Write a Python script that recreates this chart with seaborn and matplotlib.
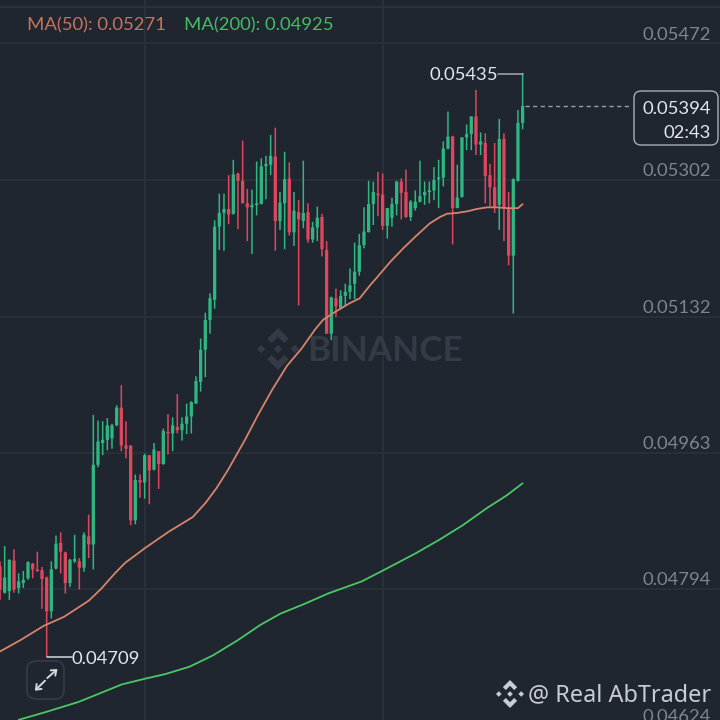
import numpy as np
import pandas as pd
import matplotlib
matplotlib.use("Agg")
import matplotlib.pyplot as plt
import seaborn as sns
from matplotlib.patches import Polygon, FancyBboxPatch
from matplotlib.transforms import Affine2D

# Prices are in units of 0.00001
opens = [4822,4789,4791,4829,4795,4801,4807,4825,4818,4817,
         4808,4766,4819,4851,4839,4801,4828,4828,4820,4859,
         4849,4948,4975,4979,4981,4997,5019,4972,4972,4879,
         4929,4926,4960,4942,4965,4949,4989,4987,4995,4991,
         4999,5008,5024,5051,5091,5128,5153,5244,5261,5266,
         5260,5310,5301,5273,5268,5271,5272,5319,5321,5331,
         5251,5273,5304,5237,5262,5251,5262,5228,5243,5256,
         5215,5111,5155,5143,5158,5163,5173,5188,5221,5237,
         5272,5285,5284,5245,5255,5272,5300,5287,5256,5267,
         5275,5283,5287,5289,5303,5305,5341,5356,5267,5281,
         5355,5359,5381,5346,5348,5308,5293,5271,5353,5267,
         5208,5301,5373]
closes = [4793,4808,4830,4793,4803,4805,4827,4818,4816,4806,
          4766,4818,4850,4840,4801,4830,4831,4820,4861,4849,
          4948,4977,4979,4997,4997,5019,4972,4968,4879,4929,
          4926,4960,4941,4967,4949,4990,4987,4997,4991,4999,
          5008,5026,5052,5091,5128,5155,5244,5261,5266,5259,
          5309,5301,5273,5268,5271,5273,5319,5322,5332,5251,
          5274,5303,5237,5264,5253,5261,5228,5243,5255,5216,
          5111,5156,5145,5158,5163,5171,5188,5221,5238,5272,
          5287,5283,5245,5267,5272,5300,5286,5256,5275,5275,
          5282,5287,5289,5302,5305,5341,5356,5267,5280,5355,
          5359,5381,5346,5350,5307,5293,5269,5353,5267,5208,
          5303,5373,5394]
highs = [4828,4847,4830,4843,4813,4816,4828,4826,4840,4821,
         4809,4828,4860,4864,4840,4831,4861,4832,4864,4886,
         5010,5003,5002,5006,4999,5022,5047,5002,4972,4936,
         4936,4962,4960,4975,4965,4993,5011,5007,5036,5007,
         5024,5027,5058,5105,5137,5161,5252,5285,5285,5308,
         5327,5311,5351,5291,5290,5325,5329,5332,5358,5367,
         5287,5337,5324,5287,5277,5326,5273,5250,5269,5260,
         5226,5157,5167,5165,5173,5192,5224,5235,5268,5301,
         5300,5312,5310,5267,5280,5301,5304,5315,5277,5289,
         5326,5300,5300,5318,5327,5350,5387,5357,5321,5355,
         5371,5381,5414,5361,5360,5322,5348,5378,5360,5287,
         5304,5389,5435]
lows = [4780,4788,4780,4789,4788,4795,4805,4807,4815,4769,
        4709,4757,4818,4813,4788,4796,4826,4793,4815,4832,
        4818,4945,4960,4966,4968,4996,4965,4956,4873,4874,
        4907,4906,4899,4941,4918,4948,4961,4965,4987,4978,
        4986,4987,5024,5039,5057,5111,5142,5215,5214,5247,
        5259,5241,5273,5226,5210,5258,5272,5278,5308,5214,
        5240,5216,5233,5220,5146,5242,5224,5224,5226,5207,
        5111,5103,5132,5141,5145,5154,5154,5183,5217,5237,
        5246,5257,5240,5229,5244,5258,5253,5255,5251,5264,
        5274,5271,5273,5277,5267,5294,5340,5222,5267,5280,
        5339,5339,5333,5333,5273,5269,5261,5240,5226,5196,
        5136,5300,5365]

ma50_pos = [0,4.35,9.43,13.7,19,21.7,24.6,26.8,31.2,36.2,41.3,44.1,46.4,48.9,52.5,55.3,58.3,
            61.5,64.7,67.5,69.2,71.8,75,77.1,79.3,80.8,83.6,86.4,89.1,92.1,94.3,95.8,97.9,100.1,
            102.2,104.4,106.5,108.6,111,112]
ma50_val = [4716,4730,4748,4759,4779,4794,4813,4826,4845,4865,4883,4901,4919,4942,4979,5010,5041,
            5071,5093,5116,5128,5138,5149,5155,5171,5181,5200,5217,5232,5248,5256,
            5260,5261,5263,5266,5268,5268,5267,5267,5272]
ma200_pos = [4,9.4,16.7,21,26.1,31,35.5,40.6,45.6,50.7,55.8,60.1,65.2,70.3,77.5,82.2,89.1,94.2,
             99.2,104.3,108.6,112]
ma200_val = [4631,4640,4653,4663,4675,4682,4688,4697,4711,4729,4749,4763,4775,4788,4803,4817,
             4838,4855,4873,4894,4910,4925]

price_ticks = [5472, 5302, 5132, 4963, 4794, 4624]
tick_labels = ["0.05472", "0.05302", "0.05132", "0.04963", "0.04794", "0.04624"]
time_ticks = [31, 82]
ma50_label = "MA(50): 0.05271"
ma200_label = "MA(200): 0.04925"
high_label = "0.05435"
low_label = "0.04709"
last_label = "0.05394"
timer_label = "02:43"
watermark = "BINANCE"
credit = "@ Real AbTrader"

BG = "#1f2630"
GRID = "#2b323d"
UP = "#2fb782"
DOWN = "#e2465f"
MA50C = "#d8846a"
MA200C = "#4cc765"
TICKC = "#7f858e"
LIGHT = "#e4e6ea"
FONT = "Lato"
SIZE = 13.3

sns.set_style("dark")
plt.rcParams["font.family"] = [FONT, "DejaVu Sans"]

fig = plt.figure(figsize=(7.2, 7.2), dpi=100, facecolor=BG)
ax = fig.add_axes([0, 0, 1, 1], facecolor=BG)
for s in ax.spines.values():
    s.set_visible(False)
ax.set_xticks(time_ticks)
ax.set_yticks(price_ticks)
ax.set_xlim(0, 154.3)
ax.set_ylim(4630.8, 5525.7)
ax.tick_params(left=False, bottom=False, labelleft=False, labelbottom=False)
ax.grid(True, color=GRID, lw=1.1, zorder=0)
ax.set_axisbelow(True)

# pixel transform for interface decoration (origin top left)
px = Affine2D().scale(1 / 720, -1 / 720).translate(0, 1) + fig.transFigure

o = np.array(opens); c = np.array(closes); h = np.array(highs); l = np.array(lows)
idx = np.arange(len(o))
colors = np.where(c >= o, UP, DOWN)
wicks = ax.vlines(idx, l, h, colors=colors, lw=1.1, zorder=3)
wicks.set_snap(False)
bottoms = np.minimum(o, c)
heights = np.maximum(np.abs(c - o), 1.6)
bars = ax.bar(idx, heights, bottom=bottoms, width=0.7, color=colors, lw=0, zorder=4)
for b in bars:
    b.set_snap(False)

df50 = pd.DataFrame({"pos": ma50_pos, "val": ma50_val})
df200 = pd.DataFrame({"pos": ma200_pos, "val": ma200_val})
sns.lineplot(data=df50, x="pos", y="val", color=MA50C, lw=1.3, ax=ax, zorder=5, errorbar=None)
sns.lineplot(data=df200, x="pos", y="val", color=MA200C, lw=1.3, ax=ax, zorder=5, errorbar=None)
ax.set_xlabel(""); ax.set_ylabel("")
ax.set_xlim(0, 154.3)
ax.set_ylim(4630.8, 5525.7)

# price labels sit above their grid lines
for p, lab in zip(price_ticks, tick_labels):
    ax.annotate(lab, xy=(1, p), xycoords=("axes fraction", "data"), xytext=(-9, 8.5),
                textcoords="offset pixels", ha="right", va="center", fontsize=SIZE,
                color=TICKC, annotation_clip=False, zorder=6)

def pxline(xs, ys, **kw):
    ax.plot(xs, ys, transform=px, clip_on=False, **kw)

def pxtext(x, y, s, **kw):
    ax.text(x, y, s, transform=px, clip_on=False, **kw)

def logo(cx, cy, r, color, zorder):
    d = 0.2
    shapes = [
        [(0, 1), (.51, .49), (.30, .28), (0, .58), (-.30, .28), (-.51, .49)],
        [(0, -1), (.51, -.49), (.30, -.28), (0, -.58), (-.30, -.28), (-.51, -.49)],
        [(0, d), (d, 0), (0, -d), (-d, 0)],
        [(.8, d), (.8 + d, 0), (.8, -d), (.8 - d, 0)],
        [(-.8, d), (-.8 + d, 0), (-.8, -d), (-.8 - d, 0)],
    ]
    for sh in shapes:
        pts = [(cx + r * a, cy - r * b) for a, b in sh]
        ax.add_patch(Polygon(pts, closed=True, fc=color, ec="none", transform=px,
                             clip_on=False, zorder=zorder))

# top rule
pxline([0, 720], [6.5, 6.5], color=GRID, lw=1.6, zorder=1)

# moving average legend
pxtext(27, 25.5, ma50_label, color="#c9725f", fontsize=SIZE, va="center", zorder=6)
pxtext(184, 25.5, ma200_label, color="#45bb66", fontsize=SIZE, va="center", zorder=6)

# watermark
logo(278, 349, 21, "#343b46", 1)
pxtext(307, 351, watermark, color="#343b46", fontsize=25.3, fontweight="bold", va="center", zorder=1)

# high / low markers
pxline([498, 523], [73.5, 73.5], color="#a7abb2", lw=1.1, zorder=6)
pxtext(498, 75, high_label, color=LIGHT, fontsize=SIZE, ha="right", va="center", zorder=6)
pxline([47, 72], [657, 657], color="#d6d8dc", lw=1.1, zorder=6)
pxtext(72, 659.5, low_label, color=LIGHT, fontsize=SIZE, ha="left", va="center", zorder=6)

# last price
pxline([525, 632], [106, 106], color="#9a9ea6", lw=1, dashes=(3, 2.5), zorder=6)
ax.add_patch(FancyBboxPatch((634, 91), 84, 54, boxstyle="round,pad=0,rounding_size=7",
                            fc=BG, ec="#a9adb4", lw=1.0, transform=px, clip_on=False, zorder=6))
pxtext(711, 108.5, last_label, color=LIGHT, fontsize=SIZE, ha="right", va="center", zorder=7)
pxtext(711, 132.5, timer_label, color=LIGHT, fontsize=SIZE, ha="right", va="center", zorder=7)

# expand button
ax.add_patch(FancyBboxPatch((27, 661), 37, 38, boxstyle="round,pad=0,rounding_size=9",
                            fc="none", ec="#343a45", lw=1.3, transform=px, clip_on=False, zorder=6))
for (x0, y0, x1, y1) in [(47.3, 678, 57.5, 669), (45, 680.7, 34.8, 690.7)]:
    ax.annotate("", xy=(x1, y1), xytext=(x0, y0), xycoords=px, textcoords=px, zorder=7,
                arrowprops=dict(arrowstyle="->,head_length=0.32,head_width=0.25", color="#d5d8dc",
                                lw=1.4, shrinkA=0, shrinkB=0), annotation_clip=False)

# credit
logo(510, 694, 14, "#c9ccd0", 7)
pxtext(711, 695, credit, color="#c9ccd0", fontsize=16.9, ha="right", va="center",
       family=["Noto Sans", "DejaVu Sans"], zorder=7)

fig.savefig("out.png", dpi=100, facecolor=BG)
